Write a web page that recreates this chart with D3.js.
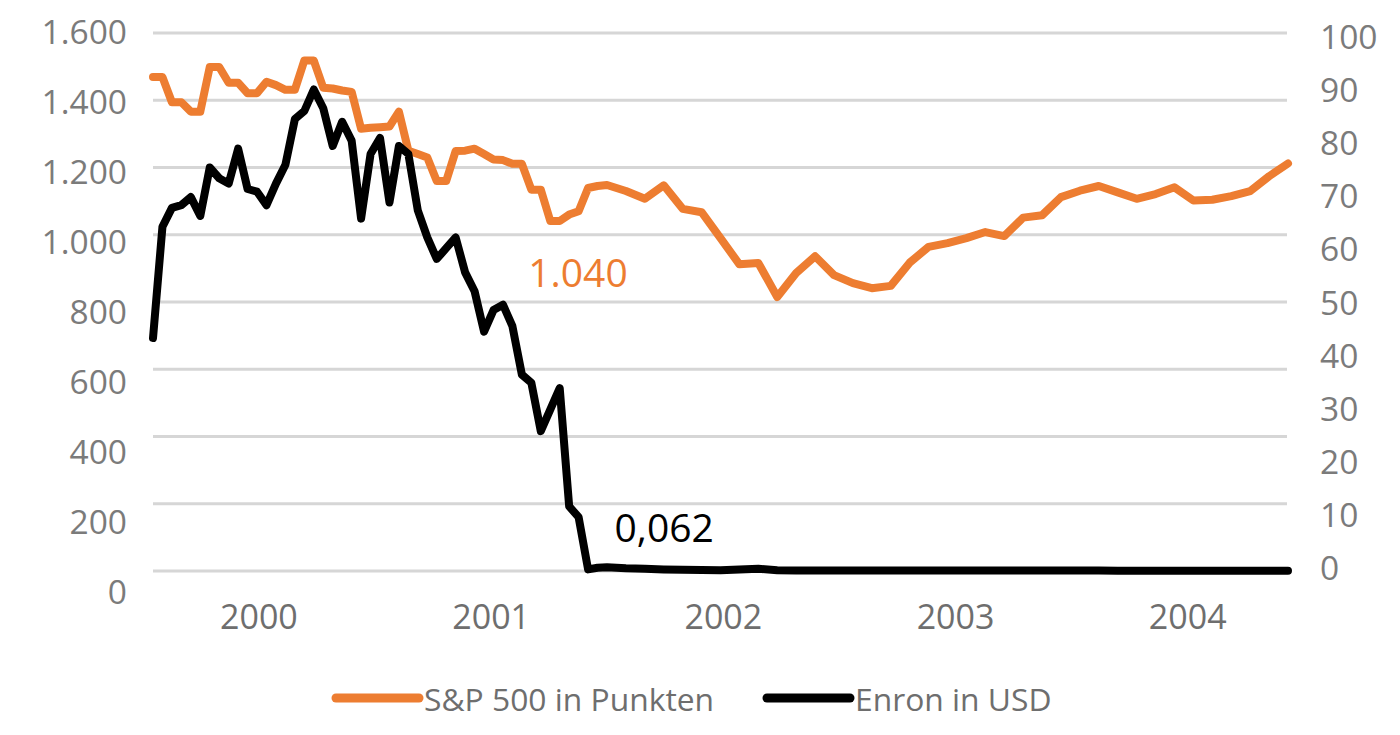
<!DOCTYPE html>
<html>
<head>
<meta charset="utf-8">
<script src="https://cdn.jsdelivr.net/npm/d3@7"></script>
<style>
  html, body { margin: 0; padding: 0; background: #fff; }
  #chart { width: 1400px; height: 735px; }
  text { font-family: "Open Sans", sans-serif; }
</style>
</head>
<body>
<div id="chart"></div>
<script>
// months since end of 1999: half-monthly until end of 2001, monthly afterwards
const periods = d3.range(0, 24.5, 0.5).concat(d3.range(25, 61));

// S&P 500 in points (left axis)
const sp500 = [
  1469, 1469, 1394, 1394, 1366, 1366, 1499, 1499, 1452, 1452,
  1421, 1421, 1455, 1445, 1431, 1431, 1518, 1518, 1437, 1435,
  1429, 1425, 1315, 1318, 1320, 1322, 1366, 1250, 1240, 1230,
  1160, 1160, 1249, 1250, 1256, 1240, 1224, 1222, 1211, 1211,
  1134, 1134, 1041, 1041, 1060, 1070, 1139, 1145, 1148,
  1130, 1107, 1147, 1077, 1067, 990, 912, 916, 815, 886,
  936, 880, 856, 841, 848, 917, 964, 975, 990, 1008,
  996, 1051, 1058, 1112, 1131, 1145, 1126, 1107, 1121, 1141,
  1102, 1104, 1115, 1130, 1174, 1212
];

// Enron share price in USD (right axis)
const enron = [
  43.3, 64, 67.5, 68, 69.5, 66, 75, 73, 72, 78.5,
  71, 70.5, 68, 72, 75.5, 84, 85.5, 89.5, 86, 79,
  83.5, 80, 65.5, 77.5, 80.5, 68.5, 79, 77.5, 67, 62,
  58, 60, 62, 55.5, 52, 44.5, 48.5, 49.5, 45.5, 36.5,
  35, 26, 30, 34, 12, 10, 0.3, 0.6, 0.7,
  0.5, 0.4, 0.3, 0.25, 0.2, 0.15, 0.3, 0.4, 0.15, 0.1,
  0.08, 0.07, 0.07, 0.07, 0.07, 0.07, 0.07, 0.07, 0.07, 0.07,
  0.07, 0.07, 0.07, 0.07, 0.07, 0.07, 0.06, 0.06, 0.06, 0.06,
  0.06, 0.06, 0.06, 0.06, 0.06, 0.062
];

const years = [2000, 2001, 2002, 2003, 2004];
const leftTicks = [0, 200, 400, 600, 800, 1000, 1200, 1400, 1600];
const rightTicks = [0, 10, 20, 30, 40, 50, 60, 70, 80, 90, 100];
const seriesNames = ["S&P 500 in Punkten", "Enron in USD"];
const seriesColors = ["#ED7D31", "#000000"];
const annotations = ["1.040", "0,062"];

let width = 1400;
let height = 735;
let svg = d3.select("#chart").append("svg")
  .attr("width", width)
  .attr("height", height)
  .attr("viewBox", "0 0 " + width + " " + height);

// scales
let x = d3.scaleLinear().domain([0, 60]).range([153, 1288]);
let yLeft = d3.scaleLinear().domain([0, 1600]).range([571, 33]);
let yRight = d3.scaleLinear().domain([0, 100]).range([571, 33]);
// tick label layers sit a little apart from the grid
let leftLabelY = d3.scaleLinear().domain([0, 1600]).range([591.7, 31.7]);
let rightLabelY = d3.scaleLinear().domain([0, 100]).range([568.3, 36.7]);
let yearX = d3.scaleLinear().domain([2000, 2004]).range([x(5.6), x(54.7)]);

let de = d3.formatLocale({ decimal: ",", thousands: ".", grouping: [3], currency: ["", " €"] });
let fmt = de.format(",");

let tickColor = "#7b7b7b";
let labelColor = "#6e6e6e";

// gridlines
svg.selectAll(".grid")
  .data(leftTicks).enter().append("line")
  .attr("x1", x(0))
  .attr("x2", x(60) - 1)
  .attr("y1", d => yLeft(d))
  .attr("y2", d => yLeft(d))
  .attr("stroke", "#d6d6d6")
  .attr("stroke-width", 3)
  .classed("grid", true);

// left axis labels
svg.selectAll(".ltick")
  .data(leftTicks).enter().append("text")
  .attr("x", 127)
  .attr("y", d => leftLabelY(d))
  .attr("dy", "0.36em")
  .attr("text-anchor", "end")
  .attr("fill", tickColor)
  .style("font-size", "33.5px")
  .text(d => fmt(d));

// right axis labels
svg.selectAll(".rtick")
  .data(rightTicks).enter().append("text")
  .attr("x", 1320)
  .attr("y", d => rightLabelY(d))
  .attr("dy", "0.36em")
  .attr("text-anchor", "start")
  .attr("fill", tickColor)
  .style("font-size", "33.5px")
  .text(d => fmt(d));

// year labels
svg.selectAll(".year")
  .data(years).enter().append("text")
  .attr("x", d => yearX(d))
  .attr("y", 617)
  .attr("dy", "0.36em")
  .attr("text-anchor", "middle")
  .attr("fill", labelColor)
  .style("font-size", "34px")
  .text(d => d);

// lines
let spLine = d3.line()
  .x((d, i) => x(periods[i]))
  .y(d => yLeft(d));
let enLine = d3.line()
  .x((d, i) => x(periods[i]))
  .y(d => yRight(d));

svg.append("path")
  .datum(sp500)
  .attr("d", spLine)
  .attr("fill", "none")
  .attr("stroke", seriesColors[0])
  .attr("stroke-width", 8)
  .attr("stroke-linejoin", "round")
  .attr("stroke-linecap", "round");

svg.append("path")
  .datum(enron)
  .attr("d", enLine)
  .attr("fill", "none")
  .attr("stroke", seriesColors[1])
  .attr("stroke-width", 8)
  .attr("stroke-linejoin", "round")
  .attr("stroke-linecap", "round");

// value annotations
svg.append("text")
  .attr("x", x(21) - 22)
  .attr("y", 287)
  .attr("fill", seriesColors[0])
  .style("font-size", "39px")
  .text(annotations[0]);

svg.append("text")
  .attr("x", x(24.4))
  .attr("y", 542)
  .attr("fill", seriesColors[1])
  .style("font-size", "39px")
  .text(annotations[1]);

// legend
let legendX = [336, 767];
let legend = svg.selectAll(".legend")
  .data(seriesNames).enter().append("g")
  .attr("transform", (d, i) => "translate(" + legendX[i] + ",698)");
legend.append("line")
  .attr("x1", 0)
  .attr("x2", 83)
  .attr("stroke", (d, i) => seriesColors[i])
  .attr("stroke-width", 9)
  .attr("stroke-linecap", "round");
legend.append("text")
  .attr("x", 88)
  .attr("y", 2)
  .attr("dy", "0.36em")
  .attr("fill", labelColor)
  .style("font-size", "31.8px")
  .text(d => d);
</script>
</body>
</html>
